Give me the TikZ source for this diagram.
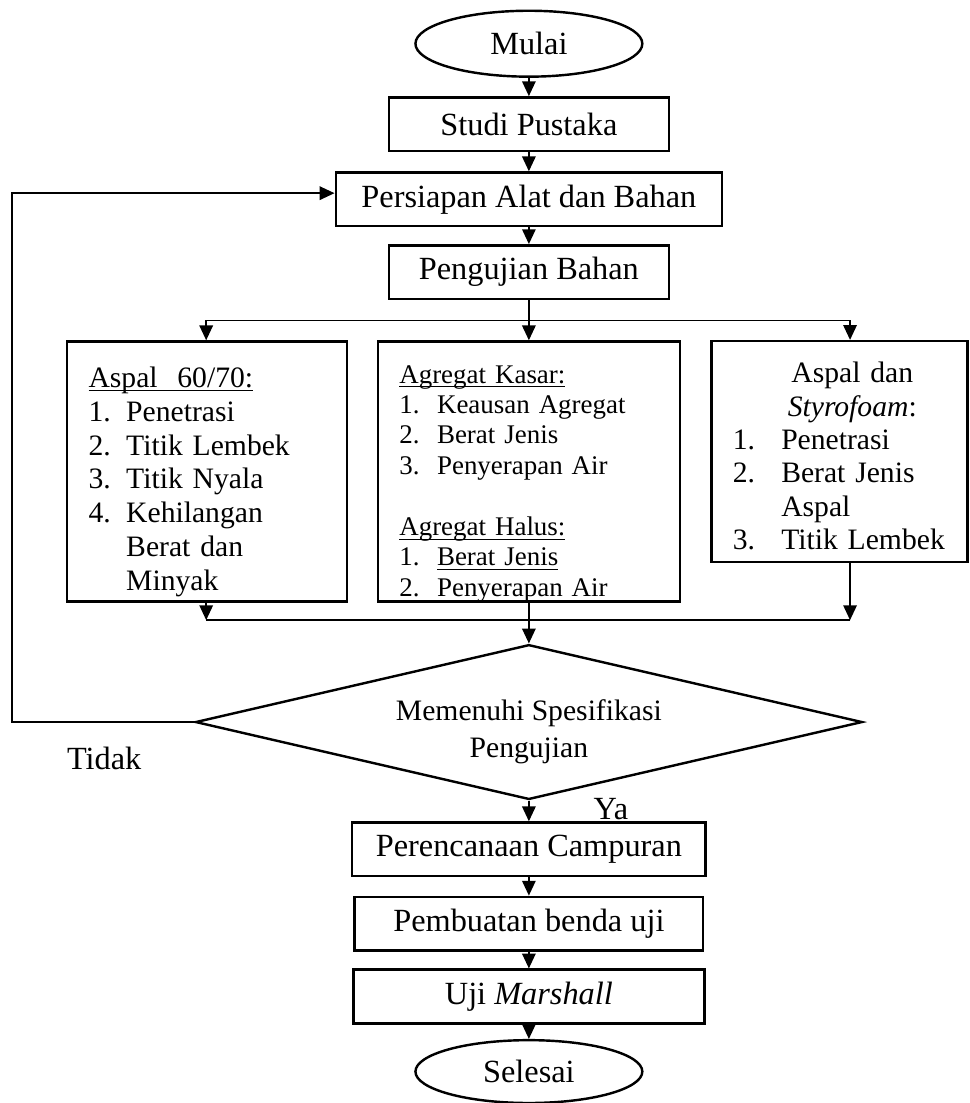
\documentclass[tikz,border=0pt]{standalone}
\usepackage{fontspec}
\setmainfont{Liberation Serif}
\usetikzlibrary{shapes.geometric,arrows.meta,positioning,calc}

\newcommand{\garis}[1]{\underline{\smash{#1}}}
\newcommand{\turun}[2]{\raisebox{-#1}[\height][\depth]{#2}}

\begin{document}
\begin{tikzpicture}[
    block/.style={draw,line width=0.9pt,minimum height=0.70cm,inner sep=0pt,font=\fontsize{12}{14}\selectfont},
    term/.style={draw,ellipse,line width=0.9pt,minimum width=2.96cm,minimum height=0.86cm,inner sep=0pt,font=\fontsize{12}{14}\selectfont},
    listbox/.style={draw,line width=0.9pt,inner xsep=0.28cm,inner ysep=0pt,align=left},
    decision/.style={draw,diamond,aspect=4.3,line width=0.9pt,minimum width=8.70cm,minimum height=2.02cm,inner sep=0pt,align=center,font=\fontsize{11}{13.7}\selectfont},
    label/.style={font=\fontsize{12}{14}\selectfont},
    conn/.style={line width=0.6pt},
    >={Triangle[length=5.5pt,width=5pt]},
]
    \useasboundingbox (0,0) rectangle (12.65,-14.39);

    \node[term] (mulai) at (6.90,-0.57) {Mulai};
    \node[block,minimum width=3.65cm] (studi) at (6.90,-1.62) {Studi Pustaka};
    \node[block,minimum width=5.04cm] (siap) at (6.90,-2.60) {Persiapan Alat dan Bahan};
    \node[block,minimum width=3.65cm] (uji) at (6.90,-3.55) {Pengujian Bahan};

    % pengujian bahan
    \node[listbox,text width=3.09cm,minimum height=3.39cm,font=\fontsize{11}{12.6}\selectfont] (aspal) at (2.70,-6.15) {%
        \turun{4pt}{\begin{tabular}{@{}p{14pt}@{}l@{}}
            \multicolumn{2}{@{}l@{}}{\garis{Aspal\ \ 60/70:}}\\
            1. & Penetrasi\\
            2. & Titik Lembek\\
            3. & Titik Nyala\\
            4. & Kehilangan\\
               & Berat dan\\
               & Minyak
        \end{tabular}}};
    \node[listbox,text width=3.38cm,minimum height=3.39cm,font=\fontsize{10}{11.3}\selectfont] (agregat) at (6.90,-6.15) {%
        \turun{4.5pt}{\begin{tabular}{@{}p{14pt}@{}l@{}}
            \multicolumn{2}{@{}l@{}}{\garis{Agregat Kasar:}}\\
            1. & Keausan Agregat\\
            2. & Berat Jenis\\
            3. & Penyerapan Air\\
               & \\
            \multicolumn{2}{@{}l@{}}{\garis{Agregat Halus:}}\\
            1. & \garis{Berat Jenis}\\
            2. & Penyerapan Air
        \end{tabular}}};
    \node[listbox,text width=2.78cm,minimum height=2.88cm,font=\fontsize{11}{12.4}\selectfont] (styro) at (10.95,-5.89) {%
        \turun{3pt}{\begin{tabular}{@{}p{18pt}@{}l@{}}
            \multicolumn{2}{@{\hspace{10pt}}c@{}}{Aspal dan}\\
            \multicolumn{2}{@{\hspace{10pt}}c@{}}{\textit{Styrofoam}:}\\
            1. & Penetrasi\\
            2. & Berat Jenis\\
               & Aspal\\
            3. & Titik Lembek
        \end{tabular}}};

    \node[decision] (cek) at (6.90,-9.42) {\turun{3.7pt}{\begin{tabular}{@{}c@{}}Memenuhi Spesifikasi\\Pengujian\end{tabular}}};
    \node[label] (tidak) at (1.36,-9.90) {Tidak};
    \node[label] (ya) at (7.97,-10.56) {Ya};

    \node[block,minimum width=4.61cm] (rencana) at (6.90,-11.08) {Perencanaan Campuran};
    \node[block,minimum width=4.55cm] (buat) at (6.90,-12.05) {Pembuatan benda uji};
    \node[block,minimum width=4.58cm] (marshall) at (6.90,-13.00) {Uji \textit{Marshall}};
    \node[term,minimum height=0.82cm] (selesai) at (6.90,-13.98) {Selesai};

    \coordinate (cabang) at (6.90,-4.18);
    \coordinate (cabangkiri) at (2.69,-4.18);
    \coordinate (cabangkanan) at (11.09,-4.18);
    \coordinate (gabungkiri) at (2.69,-8.09);
    \coordinate (gabungkanan) at (11.09,-8.09);
    \coordinate (balik) at (0.16,-2.52);

    \draw[conn,->] (mulai) -- (studi);
    \draw[conn,->] (studi) -- (siap);
    \draw[conn,->] (siap) -- (uji);
    \draw[conn] (uji) -- (cabang);
    \draw[conn] (cabangkiri) -- (cabangkanan);
    \draw[conn,->] (cabang) -- (agregat);
    \draw[conn,->] (cabangkiri) -- (cabangkiri |- aspal.north);
    \draw[conn,->] (cabangkanan) -- (cabangkanan |- styro.north);
    \draw[conn,->] (gabungkiri |- aspal.south) -- (gabungkiri);
    \draw[conn,->] (gabungkanan |- styro.south) -- (gabungkanan);
    \draw[conn] (gabungkiri) -- (gabungkanan);
    \draw[conn,->] (agregat) -- (cek);
    \draw[conn,->] (cek.west) -| (balik) -- (siap.west |- balik);
    \draw[conn,->] (cek) -- (rencana);
    \draw[conn,->] (rencana) -- (buat);
    \draw[conn,->] (buat) -- (marshall);
    \draw[conn,->] (marshall) -- (selesai);
\end{tikzpicture}
\end{document}
